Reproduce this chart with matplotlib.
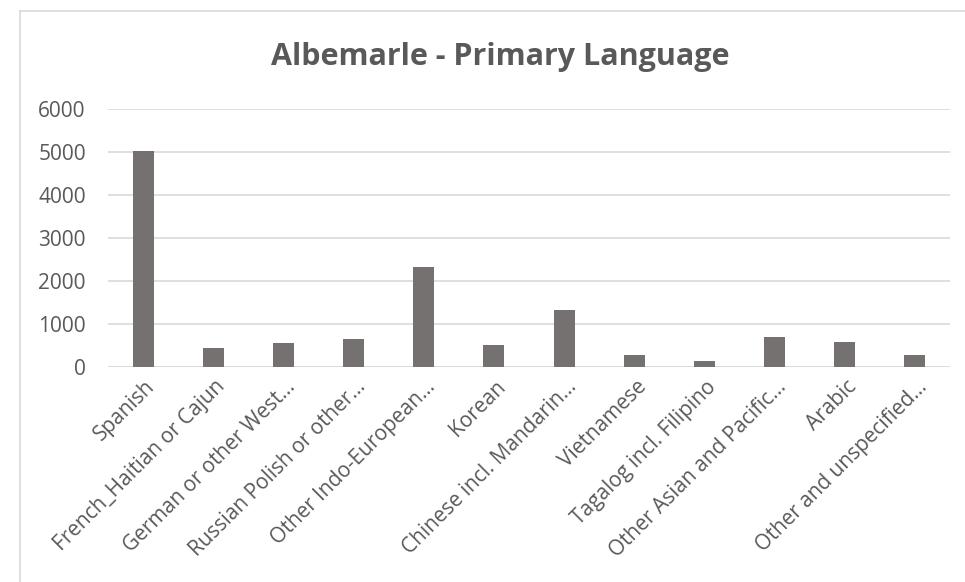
import matplotlib.pyplot as plt
import matplotlib.transforms as mtransforms

languages = ["Spanish", "French_Haitian or Cajun", "German or other West...",
             "Russian Polish or other...", "Other Indo-European...", "Korean",
             "Chinese incl. Mandarin...", "Vietnamese", "Tagalog incl. Filipino",
             "Other Asian and Pacific...", "Arabic", "Other and unspecified..."]
speakers = [5020, 440, 550, 640, 2330, 520, 1325, 280, 130, 705, 580, 285]
yticks = [0, 1000, 2000, 3000, 4000, 5000, 6000]

plt.rcParams['font.family'] = ['Open Sans', 'DejaVu Sans']
txt = '#595959'
W, H = 965, 582

fig = plt.figure(figsize=(9.65, 5.82), dpi=100)
ax = fig.add_axes([108 / W, 1 - 367 / H, 842 / W, 258 / H])

# chart border (left and top edges visible, rest cropped off)
fig.add_artist(plt.Line2D([20 / W, 20 / W], [0, 1 - 11 / H], transform=fig.transFigure,
                          color='#d9d9d9', linewidth=1.2))
fig.add_artist(plt.Line2D([20 / W, 1], [1 - 11 / H, 1 - 11 / H], transform=fig.transFigure,
                          color='#d9d9d9', linewidth=1.2))

x = range(len(languages))
ax.bar(x, speakers, width=0.3, color='#767171', zorder=3)
ax.set_xlim(-0.5, len(languages) - 0.5)
ax.set_ylim(0, 6000)
ax.set_yticks(yticks)
ax.yaxis.grid(True, color='#d9d9d9', linewidth=1.2, zorder=0)
for s in ['top', 'right', 'left', 'bottom']:
    ax.spines[s].set_visible(False)
ax.axhline(0, color='#d9d9d9', linewidth=1.2, zorder=2)
ax.tick_params(axis='both', length=0, colors=txt, labelsize=15)
ax.tick_params(axis='y', pad=16)
ax.tick_params(axis='x', pad=12)
ax.set_xticks(list(x))
ax.set_xticklabels(languages, rotation=45, ha='right', va='center', rotation_mode='anchor')
shift = mtransforms.ScaledTranslation(9 / 100, 0, fig.dpi_scale_trans)
for lab in ax.get_xticklabels():
    lab.set_transform(lab.get_transform() + shift)

fig.text(500 / W, 1 - 57 / H, "Albemarle - Primary Language", ha='center',
         va='center', fontsize=22, fontweight='bold', color=txt)

fig.savefig('out.png', dpi=100)
